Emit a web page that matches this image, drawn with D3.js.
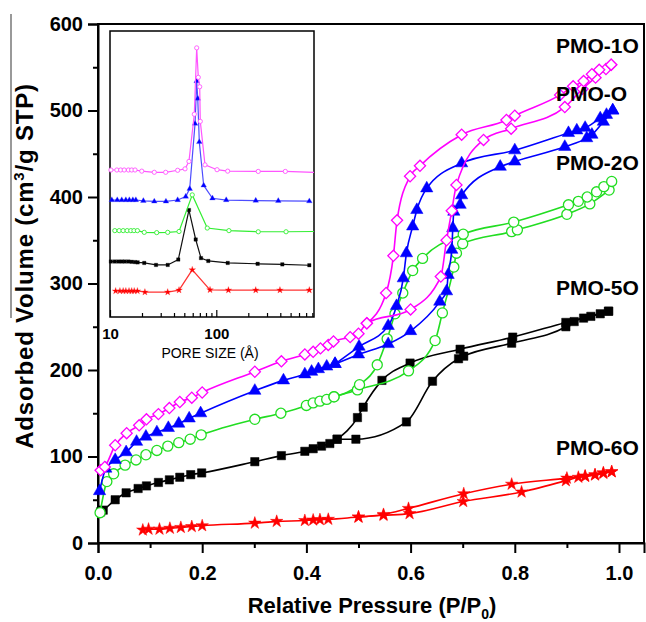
<!DOCTYPE html>
<html lang="en">
<head>
    <meta charset="UTF-8" />
    <script src="https://d3js.org/d3.v7.min.js"></script>
    <title>PMO nitrogen isotherms</title>
    <style>
        body { margin: 0; background: #fff; }
        svg { display: block; font-family: "Liberation Sans", Arial, sans-serif; }
    </style>
</head>
<body>
<svg id="chart"></svg>
<script>
    // isotherm points, [P/P0, adsorbed volume]
    const pmo1oAds = [[0.005,84],[0.013,88],[0.033,113],[0.055,127],[0.079,136],[0.093,143],[0.116,149],[0.137,156],[0.157,163],[0.18,168],[0.2,174],[0.301,198],[0.352,210],[0.397,218],[0.413,221],[0.427,225],[0.442,229],[0.452,233],[0.484,238],[0.5,242],[0.516,254],[0.6,270],[0.658,308],[0.669,350],[0.679,384],[0.688,414],[0.74,466],[0.793,479],[0.896,504],[0.93,525],[0.955,538],[0.975,548],[0.985,553]];
    const pmo1oDes = [[0.516,254],[0.553,289],[0.567,332],[0.574,373],[0.599,424],[0.618,436],[0.698,472],[0.784,489],[0.8,494],[0.887,518],[0.912,528],[0.932,534],[0.948,542],[0.962,547],[0.985,553]];
    const pmoOAds = [[0.003,60],[0.015,86],[0.033,96],[0.054,105],[0.074,117],[0.092,123],[0.113,128],[0.135,133],[0.155,138],[0.175,144],[0.197,150],[0.301,176],[0.356,188],[0.397,195],[0.41,198],[0.423,201],[0.439,204],[0.455,207],[0.5,218],[0.557,230],[0.6,245],[0.656,279],[0.669,291],[0.672,310],[0.679,339],[0.681,364],[0.683,383],[0.695,391],[0.698,402],[0.772,435],[0.8,441],[0.896,458],[0.938,468],[0.948,472],[0.97,487],[0.988,500]];
    const pmoODes = [[0.455,207],[0.501,227],[0.557,251],[0.573,274],[0.586,306],[0.592,335],[0.604,366],[0.612,385],[0.631,410],[0.698,439],[0.8,454],[0.903,474],[0.919,477],[0.935,480],[0.964,491],[0.976,495],[0.988,500]];
    const pmo2oAds = [[0.004,35],[0.017,71],[0.03,80],[0.052,90],[0.073,96],[0.092,102],[0.113,107],[0.134,112],[0.155,116],[0.177,120],[0.198,125],[0.301,143],[0.351,150],[0.4,159],[0.413,162],[0.426,164],[0.439,166],[0.453,169],[0.498,177],[0.596,199],[0.647,234],[0.661,266],[0.683,319],[0.688,335],[0.7,346],[0.794,360],[0.805,362],[0.9,380],[0.944,392],[0.981,408]];
    const pmo2oDes = [[0.453,169],[0.502,183],[0.536,206],[0.555,236],[0.57,265],[0.585,289],[0.604,315],[0.623,329],[0.701,357],[0.798,371],[0.903,391],[0.922,395],[0.939,400],[0.957,406],[0.971,412],[0.986,418]];
    const pmo5oAds = [[0.005,36],[0.01,38],[0.033,50],[0.054,58],[0.077,63],[0.093,66],[0.116,70],[0.137,73],[0.157,76],[0.178,79],[0.199,81],[0.301,94],[0.352,101],[0.397,106],[0.413,109],[0.429,112],[0.445,115],[0.459,120],[0.495,120],[0.592,140],[0.642,187],[0.692,213],[0.702,216],[0.794,231],[0.898,250],[0.914,256],[0.932,260],[0.946,262],[0.964,265],[0.98,268]];
    const pmo5oDes = [[0.459,120],[0.498,145],[0.509,157],[0.545,188],[0.599,208],[0.695,224],[0.796,238],[0.898,255],[0.98,268]];
    const pmo6oAds = [[0.086,15],[0.097,16],[0.118,16],[0.138,17],[0.159,18],[0.18,19],[0.2,20],[0.301,23],[0.343,25],[0.397,26],[0.413,26.6],[0.426,27],[0.442,27.4],[0.5,30],[0.548,32],[0.598,34],[0.701,48],[0.813,59],[0.898,72],[0.922,76],[0.935,77],[0.954,78.6],[0.97,80.5],[0.986,82.4]];
    const pmo6oDes = [[0.5,30],[0.548,33],[0.596,40],[0.702,57],[0.794,68],[0.9,75],[0.935,77.5],[0.954,79],[0.97,81.3],[0.986,82.4]];

    // inset: pore size distribution, [pore size (A), offset curve value]
    const psd1o = [[10.2,51.4],[11.6,51.4],[12.6,51.4],[13.6,51.4],[14.9,51.4],[16,51.4],[17.2,51.4],[19.9,51],[26.1,50.6],[33.4,50.6],[43.3,51.3],[50.8,51.8],[55.3,54.4],[62.1,70.9],[65.4,94.1],[67.7,83.8],[69.8,80.5],[70.7,68.4],[78.3,53.2],[101.6,51.5],[128,51],[248,50.9],[446,50.9],[830,50.6]];
    const psdO = [[10.4,40.9],[11.7,40.9],[12.9,40.9],[14.1,40.9],[15.2,40.9],[16.4,40.9],[17.5,40.9],[20.6,40.6],[26.1,40.4],[33.6,40.4],[43.3,40.9],[51.6,42.1],[56.2,44.8],[63.1,67.6],[65.4,82.5],[66.9,76.4],[69.2,61.2],[76.1,46],[92,41.5],[124,40.9],[235,40.7],[383,40.6],[750,40.5]];
    const psd2o = [[11.1,30.2],[12.2,30.2],[13.3,30.2],[14.5,30.2],[15.7,30.2],[16.8,30.2],[18.1,30.2],[21,29.6],[27.5,29.5],[34.9,29.6],[44.6,29.9],[59.4,42.7],[82.2,31.1],[131.5,30.2],[248,29.8],[453,29.8],[830,29.9]];
    const psd5o = [[10.2,19.4],[11.1,19.4],[12,19.4],[12.9,19.4],[13.8,19.4],[14.9,19.4],[16,19.3],[17.2,19.2],[18.2,19.1],[21,18.9],[27.1,18.2],[34.9,18.2],[43.9,20.1],[55.3,37.4],[64,27.1],[71.8,20.6],[84.1,19.6],[128,18.9],[245,18.6],[418,18.4],[750,18.1]];
    const psd6o = [[11.3,9.1],[12.4,9.1],[13.3,9.1],[14.1,9.1],[15.1,9.1],[16,9.1],[16.9,9.1],[18.1,9.1],[21.3,8.7],[34.9,8.7],[44.6,9.4],[59.4,16.5],[87.3,9.5],[130,9.4],[235,9.4],[397,9.4],[750,9.4]];

    const sampleNames = ["PMO-1O", "PMO-O", "PMO-2O", "PMO-5O", "PMO-6O"];
    const xMajor = [0, 0.2, 0.4, 0.6, 0.8, 1.0];
    const xMinor = [0.1, 0.3, 0.5, 0.7, 0.9];
    const yMajor = [0, 100, 200, 300, 400, 500, 600];
    const yMinor = [50, 150, 250, 350, 450, 550];
    const insetMajor = [10, 100];
    const insetMinor = [20, 30, 40, 50, 60, 70, 80, 90, 200, 300, 400, 500, 600, 700, 800];

    const svg = d3.select("#chart").attr("width", 646).attr("height", 622);

    const x = d3.scaleLinear().domain([0, 1.048]).range([98, 644]);
    const y = d3.scaleLinear().domain([0, 600]).range([543, 24]);

    // stray rule left of the y label in the original figure
    svg.append("line").attr("x1", 11).attr("x2", 11).attr("y1", 14).attr("y2", 318)
        .attr("stroke", "#777").attr("stroke-width", 1.5);

    svg.append("rect").attr("x", 98).attr("y", 24).attr("width", 546).attr("height", 519)
        .attr("fill", "none").attr("stroke", "#000").attr("stroke-width", 2);

    const xAxis = svg.append("g").attr("transform", "translate(0,543)")
        .call(d3.axisBottom(x).tickValues(xMajor).tickSize(10).tickPadding(13).tickFormat(d3.format(".1f")));
    svg.append("g").attr("transform", "translate(0,543)")
        .call(d3.axisBottom(x).tickValues(xMinor).tickSize(5).tickFormat(""))
        .select(".domain").remove();
    const yAxis = svg.append("g").attr("transform", "translate(98,0)")
        .call(d3.axisLeft(y).tickValues(yMajor).tickSize(10).tickPadding(5));
    svg.append("g").attr("transform", "translate(98,0)")
        .call(d3.axisLeft(y).tickValues(yMinor).tickSize(5).tickFormat(""))
        .select(".domain").remove();
    svg.selectAll(".tick line").attr("stroke-width", 2);
    svg.selectAll(".domain").attr("stroke-width", 2);
    [xAxis, yAxis].forEach(a => a.selectAll("text")
        .attr("font-size", 20).attr("font-weight", "bold").attr("fill", "#000")
        .attr("font-family", "'Liberation Sans', Arial, sans-serif"));

    const xTitle = svg.append("text").attr("x", 372).attr("y", 613)
        .attr("text-anchor", "middle").attr("font-size", 22).attr("font-weight", "bold");
    xTitle.append("tspan").text("Relative Pressure (P/P");
    xTitle.append("tspan").attr("dy", 6).attr("font-size", 14).text("0");
    xTitle.append("tspan").attr("dy", -6).text(")");

    const yTitle = svg.append("text").attr("transform", "translate(33,266) rotate(-90)")
        .attr("text-anchor", "middle").attr("font-size", 24).attr("font-weight", "bold")
        .attr("letter-spacing", 0.8);
    yTitle.append("tspan").text("Adsorbed Volume (cm");
    yTitle.append("tspan").attr("dy", -9).attr("font-size", 15).text("3");
    yTitle.append("tspan").attr("dy", 9).text("/g STP)");

    const samples = [
        { name: sampleNames[3], ads: pmo5oAds, des: pmo5oDes, psd: psd5o, color: "#000", inset: "#111", shape: d3.symbolSquare, size: 70, open: false, angle: 0 },
        { name: sampleNames[4], ads: pmo6oAds, des: pmo6oDes, psd: psd6o, color: "#ff0000", inset: "#ff3333", shape: d3.symbolStar, size: 48, open: false, angle: 0 },
        { name: sampleNames[2], ads: pmo2oAds, des: pmo2oDes, psd: psd2o, color: "#22dd22", inset: "#33ee33", shape: d3.symbolCircle, size: 80, open: true, angle: 0 },
        { name: sampleNames[1], ads: pmoOAds, des: pmoODes, psd: psdO, color: "#0000ff", inset: "#4d4dff", shape: d3.symbolTriangle, size: 66, open: false, angle: 0 },
        { name: sampleNames[0], ads: pmo1oAds, des: pmo1oDes, psd: psd1o, color: "#ff00ff", inset: "#ff55ff", shape: d3.symbolSquare, size: 62, open: true, angle: 45 }
    ];

    const line = d3.line().x(d => x(d[0])).y(d => y(d[1])).curve(d3.curveMonotoneX);

    samples.forEach(s => {
        const g = svg.append("g");
        [s.ads, s.des].forEach(branch => {
            g.append("path").datum(branch).attr("d", line)
                .attr("fill", "none").attr("stroke", s.color).attr("stroke-width", 1.6);
        });
        const sym = d3.symbol().type(s.shape).size(s.size);
        g.selectAll("path.pt").data(s.ads.concat(s.des)).enter().append("path")
            .attr("class", "pt")
            .attr("d", sym)
            .attr("transform", d => `translate(${x(d[0])},${y(d[1])}) rotate(${s.angle})`)
            .attr("fill", s.open ? "#fff" : s.color)
            .attr("stroke", s.color)
            .attr("stroke-width", s.open ? 1.3 : 0.5);
    });

    // sample labels, left-aligned like the original
    const labelY = { "PMO-1O": 53, "PMO-O": 101, "PMO-2O": 170, "PMO-5O": 295, "PMO-6O": 455 };
    sampleNames.forEach(n => {
        svg.append("text").attr("x", 556).attr("y", labelY[n])
            .attr("font-size", 21).attr("font-weight", "bold").text(n);
    });

    // inset
    const ix = d3.scaleLog().domain([10, 830]).range([110, 314]);
    const iy = d3.scaleLinear().domain([0, 100]).range([317, 31]);
    const inset = svg.append("g");
    inset.append("rect").attr("x", 110).attr("y", 31).attr("width", 204).attr("height", 286)
        .attr("fill", "#fff").attr("stroke", "#000").attr("stroke-width", 1.5);
    const insetAxis = inset.append("g").attr("transform", "translate(0,317)")
        .call(d3.axisBottom(ix).tickValues(insetMajor).tickSize(-7).tickPadding(11).tickFormat(d3.format("d")));
    inset.append("g").attr("transform", "translate(0,317)")
        .call(d3.axisBottom(ix).tickValues(insetMinor).tickSize(-4).tickFormat(""))
        .select(".domain").remove();
    inset.selectAll(".domain").remove();
    inset.selectAll(".tick line").attr("stroke-width", 1.2);
    insetAxis.selectAll("text").attr("font-size", 15).attr("font-weight", "bold").attr("fill", "#000")
        .attr("font-family", "'Liberation Sans', Arial, sans-serif");
    inset.append("text").attr("x", 210).attr("y", 358).attr("text-anchor", "middle")
        .attr("font-size", 14).text("PORE SIZE (\u00c5)");

    const iline = d3.line().x(d => ix(d[0])).y(d => iy(d[1]));
    samples.forEach(s => {
        inset.append("path").datum(s.psd).attr("d", iline)
            .attr("fill", "none").attr("stroke", s.inset).attr("stroke-width", 1.2);
        const sym = d3.symbol().type(s.shape).size(s.shape === d3.symbolSquare && !s.open ? 12 : 14);
        inset.selectAll(null).data(s.psd.filter(d => d[0] < 800)).enter().append("path")
            .attr("d", s.open ? d3.symbol().type(d3.symbolCircle).size(14) : sym)
            .attr("transform", d => `translate(${ix(d[0])},${iy(d[1])})`)
            .attr("fill", s.open ? "#fff" : s.color)
            .attr("stroke", s.inset)
            .attr("stroke-width", s.open ? 0.9 : 0.3);
    });
</script>
</body>
</html>
